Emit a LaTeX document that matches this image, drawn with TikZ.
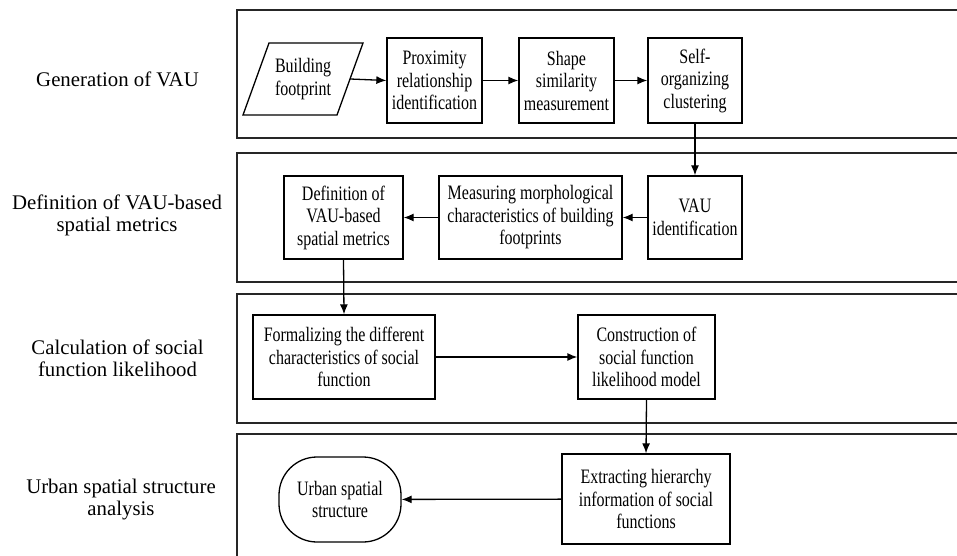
\documentclass[tikz,border=0pt]{standalone}
\usepackage{fontspec}
\setmainfont{Liberation Serif}
\newfontfamily\boxfont{Liberation Serif}[FakeStretch=0.78]
\usetikzlibrary{arrows.meta}
\begin{document}
\begin{tikzpicture}[x=1pt,y=-1pt,
  font=\boxfont\fontsize{20.5}{22.5}\selectfont,
  band/.style={draw=black!85, line width=1.6pt},
  box/.style={draw, line width=1.3pt, align=center, inner sep=0pt},
  arr/.style={-{Latex[length=10pt,width=8pt]}, line width=1.3pt},
  lbl/.style={align=center, inner sep=0pt, font=\rmfamily\fontsize{20.8}{22}\selectfont}]
\useasboundingbox (0,0) rectangle (957,556);
\begin{scope}
\clip (0,0) rectangle (957,556);
\draw[band] (237,10) rectangle (990,138);
\draw[band] (237,153) rectangle (990,282);
\draw[band] (237,294) rectangle (990,423);
\draw[band] (237,434) rectangle (990,600);
\end{scope}
% labels
\node[lbl] (l1) at (117.5,79) {Generation of VAU};
\node[lbl] (l2) at (117,215) {Definition of VAU-based\\spatial metrics};
\node[lbl] (l3) at (117.5,358) {Calculation of social\\function likelihood};
\node[lbl] (l4) at (121,500) {Urban spatial structure\\analysis};
% band 1
\node[align=center, inner sep=0pt, minimum width=94pt, minimum height=72pt] (bf) at (303,79) {Building\\footprint};
\draw[line width=1.3pt] (243,115) -- (269,43) -- (363,43) -- (337,115) -- cycle;
\node[box, minimum width=95pt, minimum height=85pt] (prox) at (434.5,80.5) {Proximity\\relationship\\identification};
\node[box, minimum width=95pt, minimum height=85pt] (shape) at (566.5,80.5) {Shape\\similarity\\measurement};
\node[box, minimum width=94pt, minimum height=85pt] (self) at (695,80.5) {Self-\\organizing\\clustering};
% band 2
\node[box, minimum width=119pt, minimum height=83pt] (def) at (343.5,217.5) {Definition of\\VAU-based\\spatial metrics};
\node[box, minimum width=183pt, minimum height=83pt] (meas) at (530.5,217.5) {Measuring morphological\\characteristics of building\\footprints};
\node[box, minimum width=94pt, minimum height=83pt] (vau) at (695,217.5) {VAU\\identification};
% band 3
\node[box, minimum width=182pt, minimum height=84pt] (form) at (344,357) {Formalizing the different\\characteristics of social\\function};
\node[box, minimum width=137pt, minimum height=84pt] (cons) at (646.5,357) {Construction of\\social function\\likelihood model};
% band 4
\node[draw, line width=1.3pt, align=center, inner sep=0pt, rounded corners=38pt, minimum width=122pt, minimum height=85pt] (urban) at (340,499.5) {Urban spatial\\structure};
\node[box, minimum width=168pt, minimum height=90pt] (extr) at (646,499) {Extracting hierarchy\\information of social\\functions};
% arrows
\draw[arr] (bf.east) -- (prox.west);
\draw[arr] (prox) -- (shape);
\draw[arr] (shape) -- (self);
\draw[arr] (self.south) -- (vau.north);
\draw[arr] (vau) -- (meas);
\draw[arr] (meas) -- (def);
\draw[arr] (def.south) -- (form.north);
\draw[arr] (form) -- (cons);
\draw[arr] (cons.south) -- (extr.north);
\draw[arr] (extr) -- (urban);
\end{tikzpicture}
\end{document}
